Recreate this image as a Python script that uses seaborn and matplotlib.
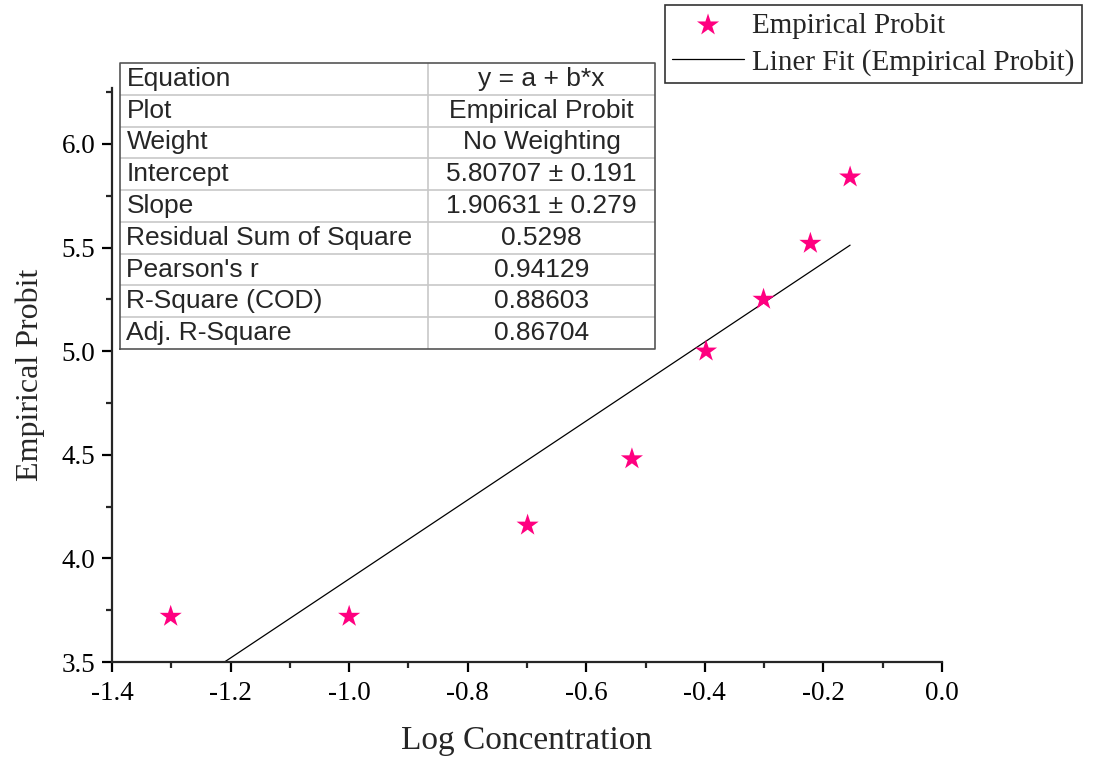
import matplotlib
matplotlib.use("Agg")
import matplotlib.pyplot as plt
import seaborn as sns
import numpy as np
import pandas as pd

# ---- data ----
log_conc = [-1.301, -1.0, -0.699, -0.523, -0.398, -0.301, -0.222, -0.155]
probit = [3.72, 3.72, 4.16, 4.48, 5.00, 5.25, 5.52, 5.84]
intercept = 5.80707
slope = 1.90631

table_labels = ["Equation", "Plot", "Weight", "Intercept", "Slope",
                "Residual Sum of Square", "Pearson's r", "R-Square (COD)",
                "Adj. R-Square"]
table_values = ["y = a + b*x", "Empirical Probit", "No Weighting",
                "5.80707 \u00b1 0.191", "1.90631 \u00b1 0.279", "0.5298",
                "0.94129", "0.88603", "0.86704"]

x_ticks = [-1.4, -1.2, -1.0, -0.8, -0.6, -0.4, -0.2, 0.0]
y_ticks = [3.5, 4.0, 4.5, 5.0, 5.5, 6.0]

# ---- style ----
sns.set_style("ticks")
plt.rcParams["font.family"] = ["Liberation Serif", "DejaVu Serif"]
plt.rcParams["axes.linewidth"] = 1.6

fig = plt.figure(figsize=(11, 7.57), dpi=100)
ax = fig.add_axes([112/1100, 1-662/757, 830/1100, (662-88)/757])

df = pd.DataFrame({"x": log_conc, "y": probit})
fit_x = np.array([min(log_conc), max(log_conc)])
fit_df = pd.DataFrame({"x": fit_x, "y": intercept + slope * fit_x})

sns.lineplot(data=fit_df, x="x", y="y", ax=ax, color="black", linewidth=0.9,
             label="Liner Fit (Empirical Probit)", legend=False)
sns.scatterplot(data=df, x="x", y="y", ax=ax, marker="*", s=280,
                color="#FF0080", edgecolor="none",
                label="Empirical Probit", legend=False, zorder=3)

ax.set_xlim(-1.4, 0.0)
ax.set_ylim(3.5, 6.27)
ax.set_xticks(x_ticks)
ax.set_xticklabels([f"{v:.1f}" for v in x_ticks])
ax.set_yticks(y_ticks)
ax.set_yticklabels([f"{v:.1f}" for v in y_ticks])
ax.set_xticks(np.arange(-1.3, 0.0, 0.2), minor=True)
ax.set_yticks(np.arange(3.75, 6.3, 0.5), minor=True)
ax.tick_params(axis="both", which="major", direction="out", length=7,
               width=1.6, labelsize=19.5, colors="black")
ax.tick_params(axis="x", which="major", pad=7)
ax.tick_params(axis="y", which="major", pad=5)
ax.tick_params(axis="both", which="minor", direction="out", length=4,
               width=1.6)
sns.despine(ax=ax)
ax.set_xlabel("Log Concentration", fontsize=24, labelpad=14)
ax.set_ylabel("Empirical Probit", fontsize=23, labelpad=12)

# legend
h, l = ax.get_legend_handles_labels()
order = [l.index("Empirical Probit"), l.index("Liner Fit (Empirical Probit)")]
leg = fig.legend([h[i] for i in order], [l[i] for i in order],
                 loc="upper left", bbox_to_anchor=(665/1100, 1-5/757),
                 fontsize=21, frameon=True, fancybox=False, framealpha=1,
                 edgecolor="#333333", borderpad=0.25, handlelength=2.45,
                 handletextpad=0.3, labelspacing=0.35, borderaxespad=0)
leg.get_frame().set_linewidth(1.2)

# stats table
tax = fig.add_axes([120/1100, 1-349/757, 535/1100, 286/757])
tax.set_xlim(0, 1)
tax.set_ylim(0, len(table_labels))
tax.axis("off")
n = len(table_labels)
div = (428-120)/535
for i in range(1, n):
    tax.plot([0, 1], [i, i], color="#c8c8c8", lw=1.2)
tax.plot([div, div], [0, n], color="#c8c8c8", lw=1.2)
tax.plot([0, 1, 1, 0, 0], [0, 0, n, n, 0], color="#555555", lw=1.2,
         clip_on=False)
for i, (lab, val) in enumerate(zip(table_labels, table_values)):
    yc = n - i - 0.5
    tax.text(0.012, yc, lab, ha="left", va="center", fontsize=19,
             family=["Liberation Sans", "DejaVu Sans"])
    tax.text((div + 1) / 2, yc, val, ha="center", va="center", fontsize=19,
             family=["Liberation Sans", "DejaVu Sans"])

fig.savefig("out.png", dpi=100)
